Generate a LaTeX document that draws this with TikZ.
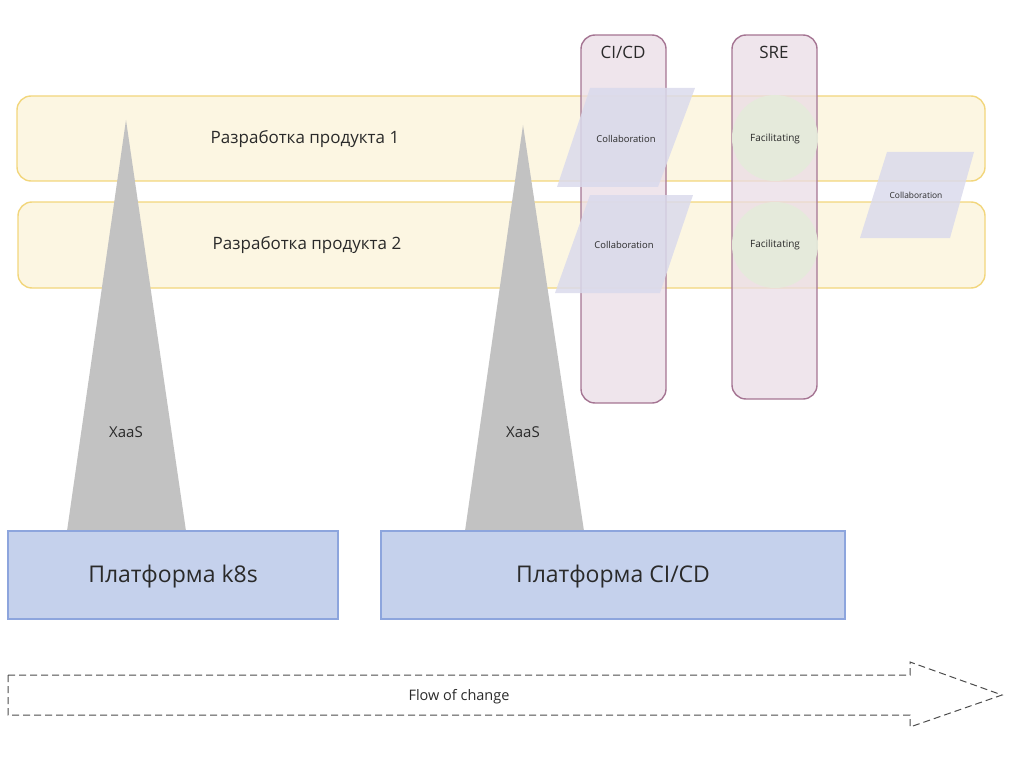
\documentclass[tikz,border=0pt]{standalone}
\usepackage{fontspec}
\setmainfont{Open Sans}
\definecolor{bandfill}{HTML}{FCF6E2}
\definecolor{banddraw}{HTML}{F2D67C}
\definecolor{colfill}{HTML}{EADCE5}
\definecolor{coldraw}{HTML}{A57593}
\definecolor{parfill}{HTML}{DADAEC}
\definecolor{circfill}{HTML}{E5EBDB}
\definecolor{trifill}{HTML}{C2C2C2}
\definecolor{platfill}{HTML}{C5D1EC}
\definecolor{platdraw}{HTML}{8DA5DD}
\definecolor{txt}{HTML}{2A2A2A}
\tikzset{
  band/.style={draw=banddraw, fill=bandfill, line width=1.4pt, rounded corners=14pt},
  column/.style={draw=coldraw, fill=colfill, fill opacity=0.75, line width=1.4pt, rounded corners=14pt},
  parshape/.style={fill=parfill, fill opacity=0.85, draw=none},
  circ/.style={fill=circfill, fill opacity=0.95, draw=none},
  tri/.style={fill=trifill, draw=none},
  plat/.style={draw=platdraw, fill=platfill, line width=1.2pt},
  lbl/.style={text=txt, inner sep=0pt},
  flow/.style={draw=black!70, line width=1pt, dash pattern=on 7pt off 4pt},
}
\begin{document}
\begin{tikzpicture}[x=1pt, y=-1pt]
\useasboundingbox (0,0) rectangle (1019,762);
% bands
\path[band] (17,96) rectangle (985,181);
\path[band] (18,202) rectangle (985,288);
\node[lbl, font=\fontsize{17}{20}\selectfont] (t1) at (305,139) {Разработка продукта 1};
\node[lbl, font=\fontsize{17}{20}\selectfont] (t2) at (307,245) {Разработка продукта 2};
% columns
\path[column] (581,35) rectangle (666,403);
\path[column] (732,35) rectangle (817,399);
\node[lbl, font=\fontsize{17}{20}\selectfont] (cicd) at (623,52) {CI/CD};
\node[lbl, font=\fontsize{17}{20}\selectfont] (sre) at (774,52) {SRE};
% collaboration parallelograms
\path[parshape] (590,88) -- (695,88) -- (658,187) -- (557,187) -- cycle;
\node[lbl, font=\fontsize{9.4}{11}\selectfont] (c1) at (626,139) {Collaboration};
\path[parshape] (590,195) -- (693,195) -- (660,293) -- (555,293) -- cycle;
\node[lbl, font=\fontsize{9.4}{11}\selectfont] (c2) at (624,245) {Collaboration};
\path[parshape] (887,152) -- (974,152) -- (950,238) -- (860,238) -- cycle;
\node[lbl, font=\fontsize{8.4}{10}\selectfont] (c3) at (916,195) {Collaboration};
% facilitating circles
\path[circ] (775,138) circle (43);
\node[lbl, font=\fontsize{10}{12}\selectfont] (f1) at (775,139) {Facilitating};
\path[circ] (775,245) circle (43);
\node[lbl, font=\fontsize{10}{12}\selectfont] (f2) at (775,245) {Facilitating};
% triangles
\path[tri] (126,120) -- (186,531) -- (67,531) -- cycle;
\node[lbl, font=\fontsize{15}{18}\selectfont] (x1) at (126,432) {XaaS};
\path[tri] (523,125) -- (584,531) -- (465,531) -- cycle;
\node[lbl, font=\fontsize{15}{18}\selectfont] (x2) at (523,432) {XaaS};
% platforms
\path[plat] (8,531) rectangle (338,619);
\node[lbl, font=\fontsize{23}{27}\selectfont] (p1) at (173,577) {Платформа k8s};
\path[plat] (381,531) rectangle (845,619);
\node[lbl, font=\fontsize{23}{27}\selectfont] (p2) at (613,577) {Платформа CI/CD};
% flow of change
\draw[flow] (8,675) -- (910,675) -- (910,662) -- (1002,695) -- (910,727) -- (910,715) -- (8,715) -- cycle;
\node[lbl, font=\fontsize{14.5}{17}\selectfont] (flow) at (459,697) {Flow of change};
\end{tikzpicture}
\end{document}
